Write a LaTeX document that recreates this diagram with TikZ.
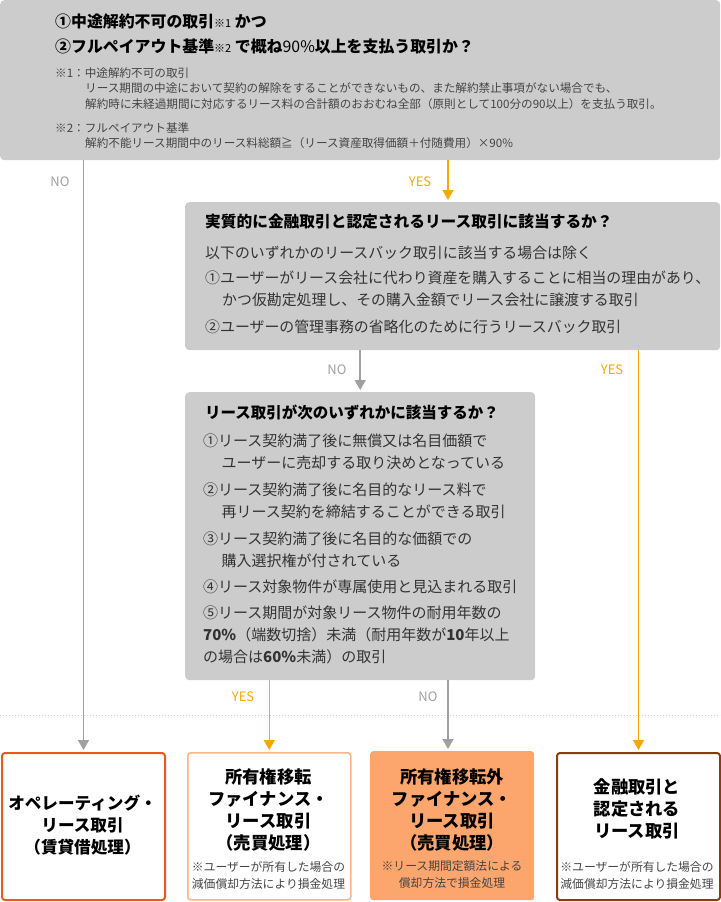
\documentclass[tikz,border=0pt]{standalone}
\usepackage{fontspec}
\setmainfont{Noto Sans CJK JP}
\usetikzlibrary{arrows.meta}
\definecolor{boxgray}{HTML}{CCCCCC}
\definecolor{arrgray}{HTML}{A0A0A0}
\definecolor{arryel}{HTML}{F5A900}
\definecolor{bordA}{HTML}{E85A1B}
\definecolor{bordB}{HTML}{FBB48A}
\definecolor{fillC}{HTML}{FCA66E}
\definecolor{bordD}{HTML}{8B3B12}
\definecolor{txtdark}{HTML}{333333}
\definecolor{txtnote}{HTML}{444444}
\definecolor{dotcol}{HTML}{D0D0D0}
\begin{document}
\begin{tikzpicture}[x=1pt,y=-1pt,
  graybox/.style={fill=boxgray,rounded corners=4pt,inner sep=0,anchor=north west},
  endbox/.style={rounded corners=3pt,inner sep=0,anchor=north west,minimum width=163,minimum height=147},
  garrow/.style={draw=arrgray,line width=1.6pt,-{Triangle[width=11pt,length=10pt]},shorten >=2pt},
  yarrow/.style={draw=arryel,line width=1.6pt,-{Triangle[width=11pt,length=10pt]},shorten >=2pt},
  nolab/.style={text=arrgray,font=\fontsize{13}{13}\selectfont,inner sep=0},
  yeslab/.style={text=arryel,font=\fontsize{13}{13}\selectfont,inner sep=0},
  ttl/.style={inner sep=0,anchor=north west,align=left,text=black,font=\bfseries},
  body/.style={inner sep=0,anchor=north west,align=left,text=txtdark},
  btitle/.style={inner sep=0,align=center,text=black,font=\bfseries\fontsize{17.3}{22}\selectfont},
  bnote/.style={inner sep=0,align=center,text=txtnote,font=\fontsize{11.8}{17}\selectfont}
]
\useasboundingbox (0,0) rectangle (720,902);
% boxes
\node[graybox,minimum width=720,minimum height=160] (top) at (0,0) {};
\node[graybox,minimum width=535,minimum height=148] (q2) at (185,202) {};
\node[graybox,minimum width=350,minimum height=288] (q3) at (185,392) {};
\node[endbox,draw=bordA,line width=2pt] (finA) at (1,752) {};
\node[endbox,draw=bordB,line width=1.6pt] (finB) at (187,752) {};
\node[endbox,fill=fillC,minimum width=164,minimum height=149] (finC) at (370,751) {};
\node[endbox,draw=bordD,line width=2pt] (finD) at (556,752) {};
% dotted separator
\coordinate (dl) at (0,715);
\coordinate (dr) at (720,715);
\draw[dotcol,line width=1pt,dotted] (dl) -- (dr);
% top texts
\node[ttl,font=\bfseries\fontsize{15.9}{25}\selectfont] (t1) at (55,14)
 {①中途解約不可の取引{\mdseries\fontsize{11}{11}\selectfont ※1} かつ\\
  ②フルペイアウト基準{\mdseries\fontsize{11}{11}\selectfont ※2} で概ね{\mdseries 90\%}以上を支払う取引か？};
\node[body,text=txtnote,font=\fontsize{11.6}{15.5}\selectfont] (t2) at (55,67.5)
 {※1：中途解約不可の取引\\
  \hspace*{30pt}リース期間の中途において契約の解除をすることができないもの、また解約禁止事項がない場合でも、\\
  \hspace*{30pt}解約時に未経過期間に対応するリース料の合計額のおおむね全部（原則として100分の90以上）を支払う取引。\\[8.5pt]
  ※2：フルペイアウト基準\\
  \hspace*{30pt}解約不能リース期間中のリース料総額≧（リース資産取得価額＋付随費用）×90\%};
% box 2 texts
\node[ttl,font=\bfseries\fontsize{15.7}{22}\selectfont] (q2t) at (205,214) {実質的に金融取引と認定されるリース取引に該当するか？};
\node[body,font=\fontsize{14.9}{22}\selectfont] (q2b) at (205,245.5)
 {以下のいずれかのリースバック取引に該当する場合は除く\\[3pt]
  ①ユーザーがリース会社に代わり資産を購入することに相当の理由があり、\\
  \hspace*{17pt}かつ仮勘定処理し、その購入金額でリース会社に譲渡する取引\\[5pt]
  ②ユーザーの管理事務の省略化のために行うリースバック取引};
% box 3 texts
\node[ttl,font=\bfseries\fontsize{15.5}{22}\selectfont] (q3t) at (205,405) {リース取引が次のいずれかに該当するか？};
\node[body,font=\fontsize{15}{22}\selectfont] (q3b) at (203,434)
 {①リース契約満了後に無償又は名目価額で\\
  \hspace*{18.5pt}ユーザーに売却する取り決めとなっている\\[5pt]
  ②リース契約満了後に名目的なリース料で\\
  \hspace*{18.5pt}再リース契約を締結することができる取引\\[5pt]
  ③リース契約満了後に名目的な価額での\\
  \hspace*{18.5pt}購入選択権が付されている\\[4pt]
  ④リース対象物件が専属使用と見込まれる取引\\[4pt]
  ⑤リース期間が対象リース物件の耐用年数の\\
  {\bfseries 70\%}（端数切捨）未満（耐用年数が{\bfseries 10}年以上\\
  の場合は{\bfseries 60\%}未満）の取引};
% bottom texts
\node[btitle,font=\bfseries\fontsize{16.6}{22}\selectfont] (aT) at (82.5,825) {オペレーティング・\\リース取引\\（賃貸借処理）};
\node[btitle] (bT) at (268.5,810) {所有権移転\\ファイナンス・\\リース取引\\（売買処理）};
\node[bnote] (bN) at (268.5,875) {※ユーザーが所有した場合の\\減価償却方法により損金処理};
\node[btitle] (cT) at (452,810) {所有権移転外\\ファイナンス・\\リース取引\\（売買処理）};
\node[bnote] (cN) at (452,875) {※リース期間定額法による\\償却方法で損金処理};
\node[btitle] (dT) at (637,809) {金融取引と\\認定される\\リース取引};
\node[bnote] (dN) at (637,875) {※ユーザーが所有した場合の\\減価償却方法により損金処理};
% arrows
\coordinate (cx) at (448,0);
\draw[garrow] (top.south -| finA.north) -- (finA.north);
\draw[yarrow] (top.south -| cx) -- (q2.north -| cx);
\draw[garrow] (q2.south -| q3.north) -- (q3.north);
\draw[yarrow] (q2.south -| finD.north) -- (finD.north);
\draw[yarrow] (q3.south -| finB.north) -- (finB.north);
\draw[garrow] (q3.south -| cx) -- (finC.north -| cx);
% labels
\node[nolab] (l1) at (60,182) {NO};
\node[yeslab] (l2) at (420,182) {YES};
\node[nolab] (l3) at (337,370) {NO};
\node[yeslab] (l4) at (612,370) {YES};
\node[yeslab] (l5) at (243,697) {YES};
\node[nolab] (l6) at (428,697) {NO};
\end{tikzpicture}
\end{document}
